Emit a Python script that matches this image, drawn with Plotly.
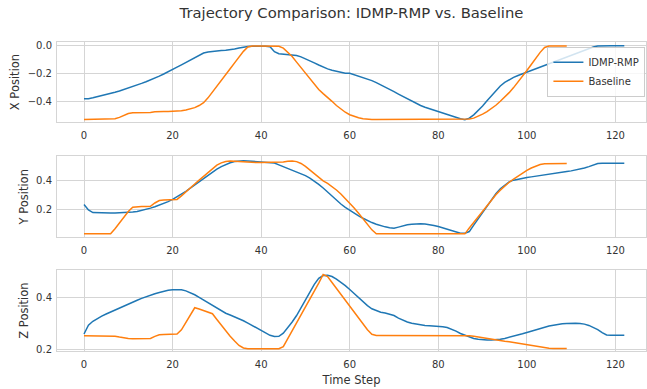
import plotly.graph_objects as go
from plotly.subplots import make_subplots

# ---------------- data ----------------
idmp_x = [-0.381, -0.381, -0.375, -0.368, -0.360, -0.352, -0.344, -0.335, -0.326, -0.316,
          -0.306, -0.295, -0.284, -0.272, -0.260, -0.248, -0.235, -0.220, -0.205, -0.190,
          -0.173, -0.156, -0.139, -0.121, -0.103, -0.085, -0.068, -0.055, -0.047, -0.042,
          -0.039, -0.037, -0.035, -0.032, -0.026, -0.019, -0.013, -0.009, -0.007, -0.006,
          -0.006, -0.006, -0.010, -0.045, -0.060, -0.062, -0.063, -0.066, -0.072, -0.082,
          -0.095, -0.110, -0.125, -0.140, -0.155, -0.168, -0.178, -0.187, -0.194, -0.200,
          -0.200, -0.210, -0.220, -0.230, -0.240, -0.252, -0.266, -0.281, -0.297, -0.314,
          -0.331, -0.348, -0.365, -0.382, -0.399, -0.416, -0.430, -0.442, -0.453, -0.464,
          -0.475, -0.485, -0.495, -0.505, -0.515, -0.525, -0.532, -0.520, -0.497, -0.467,
          -0.433, -0.396, -0.358, -0.322, -0.290, -0.265, -0.245, -0.229, -0.215, -0.203,
          -0.190, -0.178, -0.166, -0.154, -0.142, -0.130, -0.118, -0.106, -0.094, -0.082,
          -0.070, -0.058, -0.046, -0.034, -0.022, -0.012, -0.005, -0.003, -0.003, -0.003,
          -0.003, -0.003, -0.003]
base_x = [-0.530, -0.530, -0.530, -0.530, -0.530, -0.530, -0.530, -0.525, -0.515, -0.500,
          -0.487, -0.481, -0.481, -0.481, -0.481, -0.479, -0.475, -0.472, -0.472, -0.472,
          -0.472, -0.471, -0.468, -0.462, -0.455, -0.445, -0.430, -0.410, -0.375, -0.335,
          -0.293, -0.251, -0.209, -0.167, -0.125, -0.083, -0.043, -0.012, -0.005, -0.005,
          -0.005, -0.005, -0.005, -0.005, -0.006, -0.020, -0.050, -0.080, -0.120, -0.160,
          -0.200, -0.240, -0.280, -0.315, -0.345, -0.370, -0.400, -0.430, -0.455, -0.478,
          -0.496, -0.508, -0.518, -0.524, -0.528, -0.530, -0.530, -0.530, -0.530, -0.530,
          -0.530, -0.530, -0.530, -0.530, -0.530, -0.530, -0.530, -0.530, -0.530, -0.530,
          -0.530, -0.530, -0.530, -0.530, -0.530, -0.530, -0.530, -0.527, -0.520, -0.508,
          -0.492, -0.474, -0.452, -0.428, -0.400, -0.370, -0.338, -0.302, -0.263, -0.222,
          -0.180, -0.137, -0.093, -0.050, -0.015, -0.005, -0.005, -0.005, -0.005, -0.005]

idmp_y = [0.235, 0.196, 0.178, 0.176, 0.175, 0.175, 0.175, 0.175, 0.176, 0.177,
          0.179, 0.182, 0.186, 0.192, 0.200, 0.209, 0.219, 0.230, 0.242, 0.255,
          0.270, 0.287, 0.306, 0.327, 0.349, 0.372, 0.395, 0.418, 0.440, 0.462,
          0.482, 0.500, 0.515, 0.527, 0.535, 0.540, 0.541, 0.540, 0.538, 0.536,
          0.534, 0.532, 0.530, 0.525, 0.512, 0.500, 0.490, 0.478, 0.465, 0.452,
          0.437, 0.420, 0.400, 0.376, 0.350, 0.322, 0.290, 0.262, 0.238, 0.215,
          0.193, 0.173, 0.155, 0.138, 0.122, 0.108, 0.096, 0.086, 0.078, 0.072,
          0.068, 0.076, 0.086, 0.093, 0.097, 0.100, 0.100, 0.098, 0.094, 0.088,
          0.080, 0.070, 0.060, 0.050, 0.040, 0.033, 0.033, 0.045, 0.090, 0.135,
          0.180, 0.225, 0.270, 0.310, 0.345, 0.372, 0.393, 0.405, 0.413, 0.419,
          0.424, 0.428, 0.432, 0.437, 0.441, 0.446, 0.450, 0.455, 0.460, 0.465,
          0.470, 0.476, 0.482, 0.490, 0.500, 0.512, 0.522, 0.524, 0.523, 0.523,
          0.523, 0.523, 0.523]
base_y = [0.029, 0.029, 0.029, 0.029, 0.029, 0.029, 0.029, 0.065, 0.105, 0.145,
          0.185, 0.215, 0.220, 0.220, 0.220, 0.222, 0.245, 0.262, 0.266, 0.267,
          0.268, 0.270, 0.295, 0.325, 0.352, 0.378, 0.405, 0.430, 0.458, 0.485,
          0.510, 0.526, 0.536, 0.540, 0.538, 0.532, 0.530, 0.528, 0.528, 0.528,
          0.528, 0.528, 0.528, 0.529, 0.530, 0.533, 0.538, 0.540, 0.535, 0.522,
          0.502, 0.475, 0.448, 0.420, 0.400, 0.382, 0.360, 0.336, 0.308, 0.277,
          0.245, 0.210, 0.173, 0.135, 0.095, 0.057, 0.030, 0.029, 0.029, 0.029,
          0.029, 0.029, 0.029, 0.029, 0.029, 0.029, 0.029, 0.029, 0.029, 0.029,
          0.029, 0.029, 0.029, 0.029, 0.029, 0.029, 0.029, 0.070, 0.110, 0.150,
          0.190, 0.230, 0.268, 0.303, 0.335, 0.365, 0.390, 0.413, 0.435, 0.455,
          0.473, 0.490, 0.505, 0.515, 0.520, 0.521, 0.521, 0.521, 0.521, 0.521]

idmp_z = [0.259, 0.293, 0.308, 0.319, 0.328, 0.336, 0.344, 0.352, 0.360, 0.368,
          0.375, 0.382, 0.389, 0.396, 0.403, 0.409, 0.414, 0.419, 0.424, 0.427,
          0.429, 0.430, 0.429, 0.425, 0.418, 0.410, 0.400, 0.390, 0.379, 0.368,
          0.357, 0.347, 0.339, 0.332, 0.325, 0.318, 0.310, 0.301, 0.292, 0.283,
          0.273, 0.263, 0.254, 0.249, 0.250, 0.262, 0.282, 0.305, 0.330, 0.360,
          0.390, 0.420, 0.450, 0.473, 0.484, 0.485, 0.480, 0.470, 0.458, 0.445,
          0.430, 0.414, 0.398, 0.382, 0.368, 0.356, 0.348, 0.343, 0.340, 0.336,
          0.330, 0.320, 0.311, 0.305, 0.300, 0.297, 0.294, 0.292, 0.291, 0.290,
          0.289, 0.287, 0.284, 0.278, 0.270, 0.261, 0.254, 0.247, 0.242, 0.239,
          0.237, 0.236, 0.236, 0.237, 0.239, 0.242, 0.246, 0.250, 0.255, 0.260,
          0.265, 0.270, 0.276, 0.281, 0.286, 0.290, 0.293, 0.296, 0.298, 0.299,
          0.300, 0.300, 0.299, 0.297, 0.292, 0.285, 0.276, 0.264, 0.255, 0.254,
          0.254, 0.254, 0.254]
base_z = [0.252, 0.252, 0.252, 0.252, 0.252, 0.252, 0.252, 0.250, 0.247, 0.244,
          0.242, 0.241, 0.241, 0.241, 0.241, 0.242, 0.250, 0.256, 0.257, 0.257,
          0.257, 0.259, 0.275, 0.305, 0.335, 0.360, 0.355, 0.349, 0.343, 0.337,
          0.315, 0.292, 0.270, 0.250, 0.232, 0.215, 0.205, 0.202, 0.202, 0.202,
          0.202, 0.202, 0.202, 0.202, 0.202, 0.210, 0.240, 0.270, 0.300, 0.330,
          0.360, 0.390, 0.420, 0.455, 0.488, 0.480, 0.457, 0.434, 0.411, 0.388,
          0.365, 0.342, 0.319, 0.297, 0.275, 0.258, 0.253, 0.253, 0.253, 0.253,
          0.253, 0.253, 0.253, 0.253, 0.253, 0.253, 0.253, 0.253, 0.253, 0.253,
          0.253, 0.253, 0.253, 0.253, 0.253, 0.253, 0.253, 0.252, 0.250, 0.247,
          0.245, 0.242, 0.239, 0.237, 0.234, 0.231, 0.229, 0.226, 0.223, 0.220,
          0.217, 0.214, 0.211, 0.208, 0.206, 0.204, 0.203, 0.203, 0.203, 0.203]

t_idmp = list(range(len(idmp_x)))
t_base = list(range(len(base_x)))

x_ticks = [0, 20, 40, 60, 80, 100, 120]
x_tick_labels = ["0", "20", "40", "60", "80", "100", "120"]
y1_ticks = [0.0, -0.2, -0.4]
y1_tick_labels = ["0.0", "\u22120.2", "\u22120.4"]
y2_ticks = [0.2, 0.4]
y2_tick_labels = ["0.2", "0.4"]
y3_ticks = [0.2, 0.4]
y3_tick_labels = ["0.2", "0.4"]

series_names = ["IDMP-RMP", "Baseline"]
colors = ["#1f77b4", "#ff7f0e"]

# ---------------- figure ----------------
fig = make_subplots(rows=3, cols=1)

panels = [(idmp_x, base_x), (idmp_y, base_y), (idmp_z, base_z)]
for r, (a, b) in enumerate(panels, start=1):
    fig.add_trace(go.Scatter(x=t_idmp, y=a, mode="lines", name=series_names[0],
                             line=dict(color=colors[0], width=1.5),
                             showlegend=(r == 1)), row=r, col=1)
    fig.add_trace(go.Scatter(x=t_base, y=b, mode="lines", name=series_names[1],
                             line=dict(color=colors[1], width=1.5),
                             showlegend=(r == 1)), row=r, col=1)

grid = "#d5d5d5"
txt = "#333333"
axis_common = dict(showgrid=True, gridcolor=grid, gridwidth=1, zeroline=False,
                   showline=True, linecolor=grid, linewidth=1, mirror=True,
                   ticks="", automargin=False,
                   tickfont=dict(size=10, color=txt, family="DejaVu Sans"))

domains = [[0.741, 1.0], [0.3676, 0.6305], [0.0, 0.2619]]
yranges = [[-0.548, 0.024], [0.004, 0.573], [0.1935, 0.505]]
yticks = [(y1_ticks, y1_tick_labels), (y2_ticks, y2_tick_labels), (y3_ticks, y3_tick_labels)]
ytitles = ["X Position", "Y Position", "Z Position"]

for i in range(3):
    xa = "xaxis" if i == 0 else f"xaxis{i+1}"
    ya = "yaxis" if i == 0 else f"yaxis{i+1}"
    fig.layout[xa].update(range=[-6.1, 126.9], tickvals=x_ticks, ticktext=x_tick_labels,
                          ticklabelstandoff=4, **axis_common)
    fig.layout[ya].update(domain=domains[i], range=yranges[i],
                          tickvals=yticks[i][0], ticktext=yticks[i][1],
                          ticklabelstandoff=2,
                          title=dict(text=ytitles[i], standoff=5,
                                     font=dict(size=11.5, color=txt, family="DejaVu Sans")),
                          **axis_common)

fig.layout.xaxis3.update(title=dict(text="Time Step", standoff=6,
                                    font=dict(size=11.5, color=txt, family="DejaVu Sans")))

fig.update_layout(
    width=647, height=389,
    margin=dict(l=57, r=1, t=42, b=38, autoexpand=False),
    paper_bgcolor="white", plot_bgcolor="white",
    title=dict(text="Trajectory Comparison: IDMP-RMP vs. Baseline",
               x=0.5, xref="paper", y=0.9666, yref="container", yanchor="middle",
               font=dict(size=14.8, color=txt, family="DejaVu Sans")),
    legend=dict(x=0.999, y=0.985, xanchor="right", yanchor="top",
                bgcolor="rgba(255,255,255,0.8)", bordercolor="#cccccc", borderwidth=1,
                font=dict(size=10, color=txt, family="DejaVu Sans"),
                tracegroupgap=0, itemwidth=30),
    showlegend=True,
)

fig.write_html("out.html", config={"displayModeBar": False},
               post_script="document.body.style.margin='0';")
